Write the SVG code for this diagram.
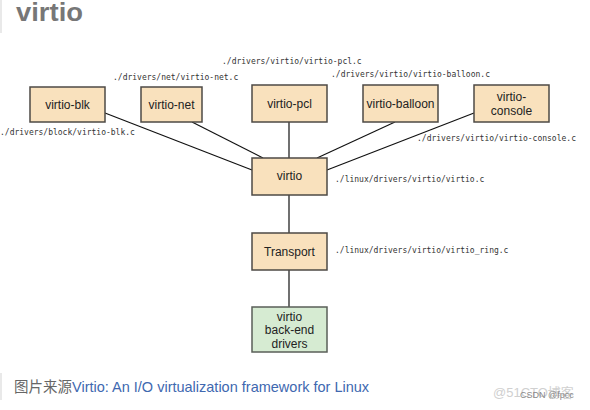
<svg xmlns="http://www.w3.org/2000/svg" width="590" height="410" viewBox="0 0 590 410">
<style>
.box{fill:#f9e1bd;stroke:#4d4a45;stroke-width:1.5}
.be{fill:#d6ebd2;stroke:#5a5f58;stroke-width:1.5}
.lbl{font-family:"Liberation Sans",Arial,sans-serif;font-size:12px;fill:#222;text-anchor:middle}
.path{font-family:"DejaVu Sans Mono","Liberation Mono",monospace;font-size:8px;fill:#333}
.conn line{stroke:#111;stroke-width:1.2}
</style>
<rect width="590" height="410" fill="#fff"/>
<line x1="1" y1="0" x2="1" y2="33" stroke="#e2e2e2" stroke-width="1.5"/>
<text x="16" y="21" font-family="Liberation Sans,Arial,sans-serif" font-size="25" font-weight="bold" fill="#777" textLength="67" lengthAdjust="spacingAndGlyphs">virtio</text>

<g id="connectors" class="conn">
<line x1="105" y1="113" x2="252" y2="170"/>
<line x1="192" y1="122" x2="263" y2="158"/>
<line x1="289" y1="122" x2="289" y2="158"/>
<line x1="395" y1="122" x2="317" y2="158"/>
<line x1="474" y1="113" x2="327" y2="170"/>
<line x1="289" y1="195" x2="289" y2="233"/>
<line x1="289" y1="270" x2="289" y2="307"/>
</g>

<g id="virtio-blk"><rect class="box" x="30" y="87" width="75" height="35"/><text class="lbl" x="67.5" y="109">virtio-blk</text></g>
<g id="virtio-net"><rect class="box" x="141" y="87" width="61" height="35"/><text class="lbl" x="171.5" y="109">virtio-net</text></g>
<g id="virtio-pcl"><rect class="box" x="252" y="85" width="75" height="37"/><text class="lbl" x="289.5" y="108">virtio-pcl</text></g>
<g id="virtio-balloon"><rect class="box" x="363" y="85" width="75" height="37"/><text class="lbl" x="400.5" y="108">virtio-balloon</text></g>
<g id="virtio-console"><rect class="box" x="474" y="85" width="75" height="37"/><text class="lbl" x="511.5" y="101">virtio-</text><text class="lbl" x="511.5" y="115">console</text></g>
<g id="virtio"><rect class="box" x="252" y="158" width="75" height="37"/><text class="lbl" x="289.5" y="180">virtio</text></g>
<g id="transport"><rect class="box" x="252" y="233" width="75" height="37"/><text class="lbl" x="289.5" y="256">Transport</text></g>
<g id="backend"><rect class="be" x="252" y="307" width="75" height="45"/><text class="lbl" x="289.5" y="321">virtio</text><text class="lbl" x="289.5" y="334">back-end</text><text class="lbl" x="289.5" y="348">drivers</text></g>

<g id="paths">
<text class="path" x="222" y="64">./drivers/virtio/virtio-pcl.c</text>
<text class="path" x="113" y="80">./drivers/net/virtio-net.c</text>
<text class="path" x="331" y="77">./drivers/virtio/virtio-balloon.c</text>
<text class="path" x="0" y="135">./drivers/block/virtio-blk.c</text>
<text class="path" x="417" y="141">./drivers/virtio/virtio-console.c</text>
<text class="path" x="335" y="182">./linux/drivers/virtio/virtio.c</text>
<text class="path" x="335" y="253">./linux/drivers/virtio/virtio_ring.c</text>
</g>

<line x1="1" y1="373" x2="1" y2="400" stroke="#e2e2e2" stroke-width="1.5"/>
<text x="14" y="392" font-family="Liberation Sans,Arial,'Noto Sans CJK SC',sans-serif" font-size="14.5"><tspan fill="#666" font-family="'Noto Sans CJK SC',sans-serif">图片来源</tspan><tspan fill="#4068b0">Virtio: An I/O virtualization framework for Linux</tspan></text>
<text x="493" y="397" font-family="Liberation Sans,'Noto Sans CJK SC',sans-serif" font-size="13" fill="#d0d0d0">@51CTO博客</text>
<text x="520" y="398" font-family="Liberation Sans,sans-serif" font-size="9" fill="#888">CSDN @fpcc</text>
</svg>
